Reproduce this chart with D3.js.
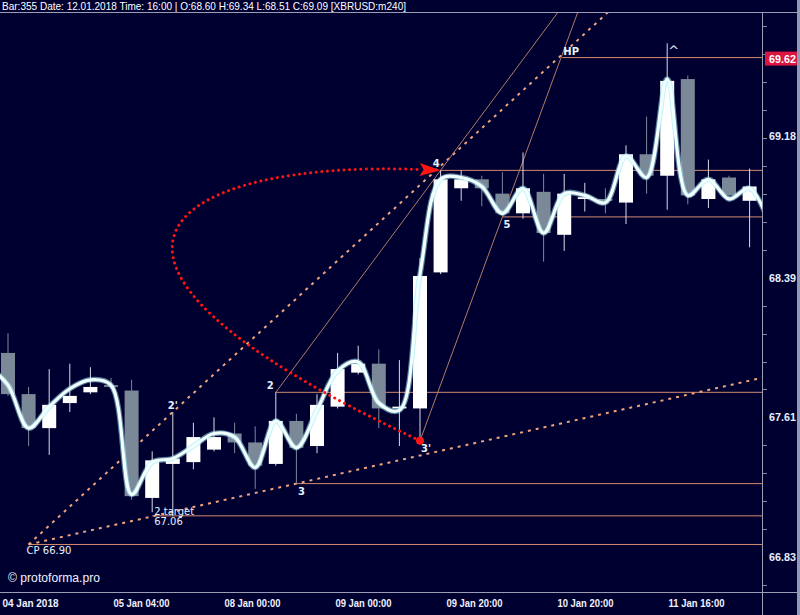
<!DOCTYPE html>
<html><head><meta charset="utf-8">
<script src="https://cdn.jsdelivr.net/npm/d3@7"></script>
<style>body{margin:0;background:#000030;overflow:hidden} svg{display:block}</style>
</head><body>
<svg id="c" width="800" height="615"></svg>
<script>
// ---------- DATA ----------
const headerText = "Bar:355 Date: 12.01.2018 Time: 16:00 | O:68.60 H:69.34 L:68.51 C:69.09 [XBRUSD:m240]";
const candleOpen  = [67.97,67.74,67.55,67.69,67.75,67.79,67.76,67.16,67.35,67.36,67.43,67.52,67.47,67.35,67.59,67.45,67.67,67.86,67.91,67.66,67.66,68.42,68.89,68.94,68.86,68.75,68.87,68.63,68.83,68.83,68.81,69.08,68.96,69.50,68.83,68.95,68.82];
const candleHigh  = [68.08,67.78,67.88,67.91,67.89,67.83,67.82,67.42,67.64,67.58,67.61,67.58,67.56,67.75,67.63,67.74,67.97,68.01,67.99,67.93,68.50,68.99,68.99,68.96,68.98,69.09,68.97,68.97,68.92,68.89,69.13,69.29,69.70,69.52,69.05,68.96,69.00];
const candleLow   = [67.73,67.45,67.40,67.64,67.74,67.77,67.15,67.08,67.06,67.32,67.42,67.41,67.21,67.34,67.24,67.41,67.66,67.85,67.55,67.45,67.48,68.41,68.82,68.79,68.74,68.72,68.48,68.54,68.76,68.75,68.69,68.86,68.77,68.80,68.78,68.84,68.56];
const candleClose = [67.74,67.55,67.68,67.73,67.78,67.78,67.17,67.37,67.38,67.50,67.50,67.47,67.34,67.59,67.44,67.68,67.88,67.91,67.66,67.67,68.40,68.94,68.94,68.89,68.75,68.89,68.64,68.86,68.84,68.82,69.08,68.96,69.49,68.85,68.94,68.85,68.90];
// smoothed line, bar index -1 .. 37
const smoothStart = -1;
const smoothVals = [67.90,67.79,67.55,67.67,67.77,67.82,67.79,67.18,67.36,67.38,67.45,67.52,67.50,67.33,67.59,67.44,67.65,67.87,67.92,67.69,67.65,68.41,68.94,68.95,68.90,68.75,68.89,68.64,68.86,68.85,68.81,69.07,68.95,69.50,68.85,68.94,68.83,68.89,68.68];
const priceTicks = [66.83, 67.61, 68.39, 69.18];
const dateLabels = ["04 Jan 2018","05 Jan 04:00","08 Jan 00:00","09 Jan 00:00","09 Jan 20:00","10 Jan 20:00","11 Jan 16:00"];
const pointNames = ["CP","2'","2","3","3'","4","5"];
const pointIdx   = [1, 8, 13, 14, 20, 21, 24];
const pointPrice = [66.90, 67.64, 67.75, 67.24, 67.48, 68.99, 68.73];
const targetIdx = 7, targetPrice = 67.06;
const hpPrice = 69.62;
const highMarkIdx = 32;
const arrowCtrl = [[0.1, 68.545], [8.35, 69.048]];
const copyright = "© protoforma.pro";

// ---------- LAYOUT ----------
const W = 800, H = 615, plotR = 762, plotT = 12, plotB = 592;
const bg = "#000030";
const svg = d3.select("#c");
svg.append("rect").attr("width", W).attr("height", H).attr("fill", bg);

const x = d3.scaleLinear().domain([0, 36]).range([8, 749.6]);
const y = d3.scaleLinear().domain([66.83, 69.18]).range([557, 136.35]);

svg.append("clipPath").attr("id", "clip").append("rect")
  .attr("x", 0).attr("y", plotT).attr("width", plotR).attr("height", plotB - plotT);

const plot = svg.append("g").attr("clip-path", "url(#clip)");
const P = {};
pointNames.forEach((n, i) => P[n] = {i: pointIdx[i], v: pointPrice[i]});

// ---------- level lines ----------
const levelCol = "#d28a70";
function hLevel(i, v) {
  plot.append("line").attr("x1", x(i)).attr("x2", plotR).attr("y1", y(v)).attr("y2", y(v))
    .attr("stroke", levelCol).attr("stroke-width", 1);
}
// HP index = intersection of CP-2' and 3'-5 lines
const m1 = (P["2'"].v - P.CP.v) / (P["2'"].i - P.CP.i);
const m2 = (P["5"].v - P["3'"].v) / (P["5"].i - P["3'"].i);
const hpIdx = (P["3'"].v - m2 * P["3'"].i - P.CP.v + m1 * P.CP.i) / (m1 - m2);

hLevel(P.CP.i, P.CP.v);
hLevel(targetIdx, targetPrice);
hLevel(P["3"].i, P["3"].v);
hLevel(P["2"].i, P["2"].v);
hLevel(P["5"].i, P["5"].v);
hLevel(P["4"].i, P["4"].v);
hLevel(hpIdx, hpPrice);

// ---------- diagonals ----------
function ray(a, b, attrs) {
  const m = (b.v - a.v) / (b.i - a.i);
  const iEnd = 45;
  const l = plot.append("line").attr("x1", x(a.i)).attr("y1", y(a.v))
    .attr("x2", x(iEnd)).attr("y2", y(a.v + m * (iEnd - a.i)));
  Object.entries(attrs).forEach(([k, v]) => l.attr(k, v));
}
const dotted = {stroke: "#f0a27e", "stroke-width": 2, "stroke-dasharray": "3 5"};
ray(P.CP, P["2'"], dotted);
ray(P.CP, P["3"], dotted);
const thin = {stroke: "#b07a66", "stroke-width": 1};
ray(P["2"], P["4"], thin);
ray(P["3'"], P["5"], thin);

// ---------- candles ----------
const bw = 14;
const candles = candleOpen.map((o, i) => ({i, o, h: candleHigh[i], l: candleLow[i], c: candleClose[i]}));
const cg = plot.append("g");
candles.forEach(d => {
  const up = d.c >= d.o;
  const col = up ? "#ffffff" : "#7a8898";
  const wcol = up ? "#d8dce4" : "#7a8898";
  cg.append("line").attr("x1", x(d.i)).attr("x2", x(d.i)).attr("y1", y(d.h)).attr("y2", y(d.l))
    .attr("stroke", wcol).attr("stroke-width", 1);
  const top = y(Math.max(d.o, d.c)), bot = y(Math.min(d.o, d.c));
  cg.append("rect").attr("x", x(d.i) - bw / 2).attr("y", top)
    .attr("width", bw).attr("height", Math.max(1.5, bot - top)).attr("fill", col);
});

// ---------- smoothed line ----------
const sm = smoothVals.map((v, k) => [smoothStart + k, v]);
const sline = d3.line().x(d => x(d[0])).y(d => y(d[1])).curve(d3.curveCatmullRom.alpha(0.5));
plot.append("path").attr("d", sline(sm)).attr("fill", "none").attr("stroke", "#9fe8f4")
  .attr("stroke-width", 5.5).attr("stroke-opacity", 0.55);
plot.append("path").attr("d", sline(sm)).attr("fill", "none").attr("stroke", "#f2ffff")
  .attr("stroke-width", 3.2);

// ---------- red arrow curve ----------
const a0 = [x(P["3'"].i), y(P["3'"].v)];
const a3 = [x(P["4"].i), y(P["4"].v)];
const c1 = [x(arrowCtrl[0][0]), y(arrowCtrl[0][1])];
const c2 = [x(arrowCtrl[1][0]), y(arrowCtrl[1][1])];
// shorten end for arrow head
const ang = Math.atan2(a3[1] - c2[1], a3[0] - c2[0]);
const headLen = 21;
const a3b = [a3[0] - headLen * Math.cos(ang), a3[1] - headLen * Math.sin(ang)];
const rp = d3.path();
rp.moveTo(a0[0], a0[1]);
rp.bezierCurveTo(c1[0], c1[1], c2[0], c2[1], a3b[0], a3b[1]);
plot.append("path").attr("d", rp.toString()).attr("fill", "none").attr("stroke", "#ff1414")
  .attr("stroke-width", 3).attr("stroke-linecap", "round").attr("stroke-dasharray", "0.01 5.6");
const hw = 6.5;
const nx = -Math.sin(ang), ny = Math.cos(ang);
plot.append("path").attr("d", `M${a3[0]},${a3[1]} L${a3b[0] + nx * hw},${a3b[1] + ny * hw} L${a3b[0] + 4 * Math.cos(ang)},${a3b[1] + 4 * Math.sin(ang)} L${a3b[0] - nx * hw},${a3b[1] - ny * hw} Z`)
  .attr("fill", "#ff1414");
plot.append("circle").attr("cx", a0[0]).attr("cy", a0[1]).attr("r", 4).attr("fill", "#ff1414");

// ---------- point labels ----------
const lblFont = "'DejaVu Sans', sans-serif";
const lblCol = "#e6f2ff";
function lbl(t, px, py, anchor, size, weight) {
  plot.append("text").attr("x", px).attr("y", py).attr("text-anchor", anchor || "start")
    .attr("font-family", lblFont).attr("font-size", size || 10).attr("font-weight", weight || "bold")
    .attr("fill", lblCol).text(t);
}
lbl("2", x(P["2"].i) - 2, y(P["2"].v) - 3, "end");
lbl("2'", x(P["2'"].i), y(P["2'"].v) - 3, "middle");
lbl("3", x(P["3"].i) + 5, y(P["3"].v) + 11, "middle");
lbl("3'", x(P["3'"].i) + 1, y(P["3'"].v) + 11, "start");
lbl("4", x(P["4"].i) - 1, y(P["4"].v) - 3, "end");
lbl("5", x(P["5"].i) + 1, y(P["5"].v) + 11, "start");
lbl("HP", x(hpIdx) + 1, y(hpPrice) - 3, "start");
lbl("^", x(highMarkIdx) + 1, y(candleHigh[highMarkIdx]) + 12, "start", 13, "normal");
lbl("2 target", x(targetIdx) + 2, y(targetPrice) - 1, "start", 10, "normal");
lbl(targetPrice.toFixed(2), x(targetIdx) + 2, y(targetPrice) + 9, "start", 10, "normal");
lbl("CP " + P.CP.v.toFixed(2), x(P.CP.i) - 2, y(P.CP.v) + 10, "start", 10, "normal");

// ---------- frame / axes ----------
const axisCol = "#9a9cb4";
svg.append("line").attr("x1", 0).attr("x2", W).attr("y1", plotT + 0.5).attr("y2", plotT + 0.5).attr("stroke", axisCol);
svg.append("line").attr("x1", 0).attr("x2", W).attr("y1", plotB + 0.5).attr("y2", plotB + 0.5).attr("stroke", axisCol);
svg.append("line").attr("x1", plotR + 0.5).attr("x2", plotR + 0.5).attr("y1", plotT).attr("y2", H).attr("stroke", axisCol);
svg.append("rect").attr("x", 797).attr("y", 0).attr("width", 3).attr("height", H).attr("fill", "#8e9ab8");

// minor ticks
const step = (priceTicks[1] - priceTicks[0]) / 5;
const minor = d3.range(-1, 20).map(k => priceTicks[0] + k * step).filter(v => y(v) > plotT + 3 && y(v) < plotB - 2);
svg.append("g").selectAll("line").data(minor).join("line")
  .attr("x1", plotR + 1).attr("x2", plotR + 5).attr("y1", d => Math.round(y(d)) + 0.5).attr("y2", d => Math.round(y(d)) + 0.5)
  .attr("stroke", "#8088a8");
// major labels
const axFont = "'Liberation Sans', Arial, sans-serif";
priceTicks.forEach(v => {
  svg.append("line").attr("x1", plotR + 1).attr("x2", plotR + 7).attr("y1", Math.round(y(v)) + 0.5).attr("y2", Math.round(y(v)) + 0.5)
    .attr("stroke", "#000000").attr("stroke-width", 1.2);
  svg.append("text").attr("x", 769).attr("y", y(v) + 4).attr("font-family", axFont).attr("font-size", 11)
    .attr("font-weight", "bold").attr("fill", "#e8eeff").attr("textLength", 27).attr("lengthAdjust", "spacingAndGlyphs")
    .text(v.toFixed(2));
});
// current / HP price box
svg.append("rect").attr("x", 765).attr("y", y(hpPrice) - 6).attr("width", 32).attr("height", 14).attr("fill", "#dc1440");
svg.append("text").attr("x", 769).attr("y", y(hpPrice) + 5).attr("font-family", axFont).attr("font-size", 11)
  .attr("font-weight", "bold").attr("fill", "#ffffff").attr("textLength", 27).attr("lengthAdjust", "spacingAndGlyphs")
  .text(hpPrice.toFixed(2));

// date labels
const narrow = "'Liberation Sans Narrow', 'Arial Narrow', 'Liberation Sans', sans-serif";
dateLabels.forEach((t, k) => {
  svg.append("text").attr("x", 2.5 + k * 111).attr("y", 607).attr("font-family", narrow).attr("font-size", 11)
    .attr("font-weight", "bold").attr("fill", "#f0f2ff").attr("textLength", 56).attr("lengthAdjust", "spacingAndGlyphs").text(t);
});

// header
svg.append("text").attr("x", 2).attr("y", 9.5).attr("font-family", narrow).attr("font-size", 10.5)
  .attr("fill", "#ffffff").attr("textLength", 404).attr("lengthAdjust", "spacingAndGlyphs").text(headerText);

// copyright
svg.append("text").attr("x", 8).attr("y", 582).attr("font-family", narrow).attr("font-size", 12)
  .attr("fill", "#f0f2ff").attr("textLength", 92).attr("lengthAdjust", "spacingAndGlyphs").text(copyright);
</script>
</body></html>
